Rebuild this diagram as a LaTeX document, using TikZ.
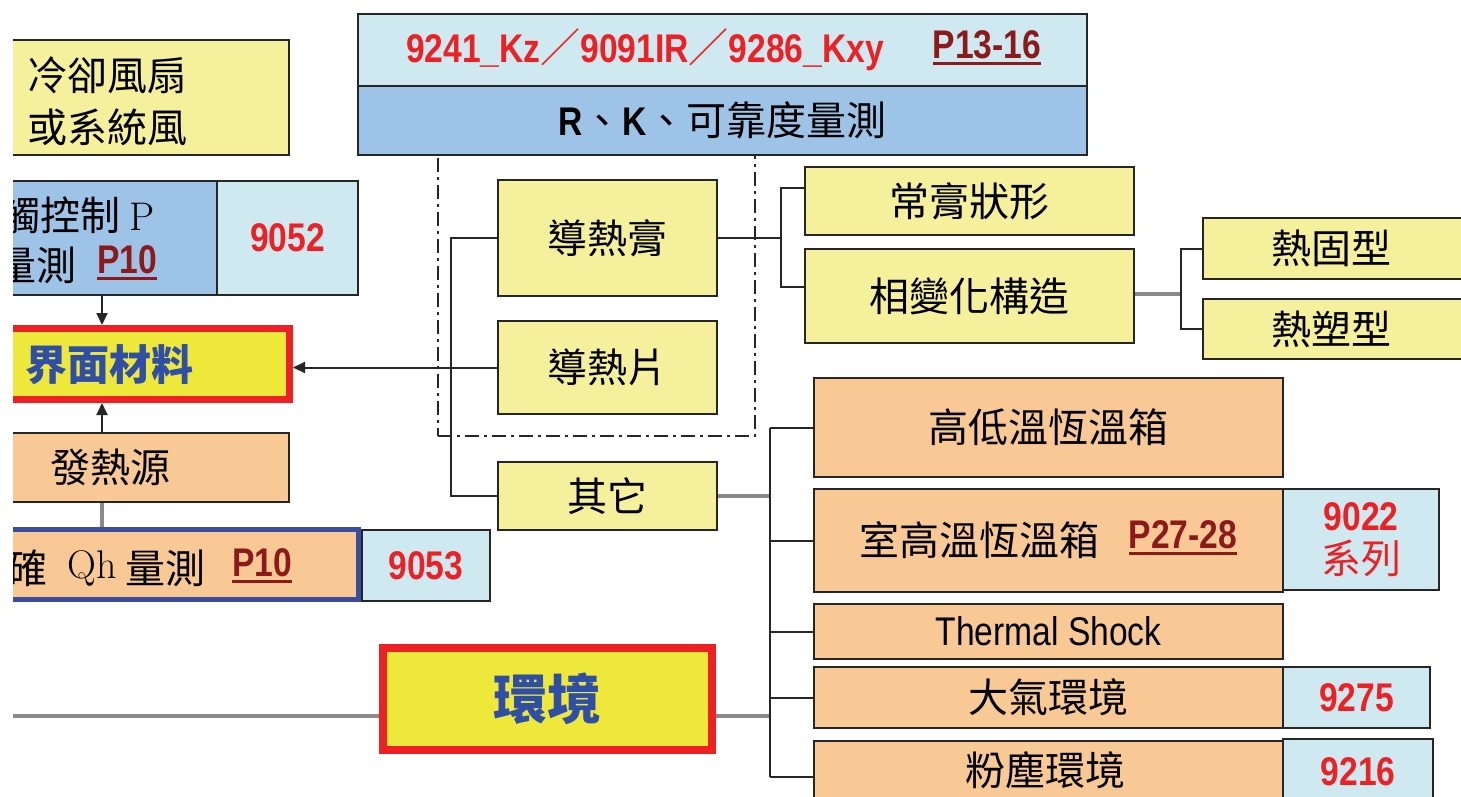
\documentclass[tikz,border=0pt]{standalone}
\usepackage{fontspec}
\usetikzlibrary{arrows.meta,calc}
\newfontfamily\cjk{Noto Sans CJK TC}
\newfontfamily\nar[FakeStretch=0.84]{Liberation Sans}
\definecolor{yel}{HTML}{F4F09C}
\definecolor{blu}{HTML}{9DC3E6}
\definecolor{cyn}{HTML}{CFE9F0}
\definecolor{pch}{HTML}{F8C994}
\definecolor{byel}{HTML}{EDE83A}
\definecolor{rd}{HTML}{EE2024}
\definecolor{drd}{HTML}{8C1A1A}
\definecolor{tblue}{HTML}{2F4EA6}
\definecolor{qblue}{HTML}{3B4DA0}
\definecolor{gry}{HTML}{8A8A8A}
\newcommand\ulx[1]{\setbox0\hbox{#1}\rlap{\color{drd}\rule[-6pt]{\wd0}{2.5pt}}\box0}
\newcommand\mybox[7][]{\node[box,#1,minimum width={(#5pt)-(#3pt)},minimum height={(#6pt)-(#4pt)}] (#2) at ({(#3+#5)/2},{(#4+#6)/2}) {#7};}
\tikzset{
  box/.style={draw=black!85,line width=2.2pt,inner sep=0pt,align=center,font=\cjk\fontsize{40}{48}\selectfont},
  cjkt/.style={inner sep=0pt,font=\cjk\fontsize{40}{48}\selectfont},
  num/.style={text=rd,font=\nar\bfseries\fontsize{40}{43}\selectfont},
  pnum/.style={inner sep=0pt,text=drd,font=\nar\bfseries\fontsize{40}{44}\selectfont},
  ln/.style={draw=black!85,line width=2pt},
  gln/.style={draw=gry,line width=4pt},
  arr/.style={ln,-{Triangle[length=12pt,width=11pt]}},
}
\begin{document}
\begin{tikzpicture}[x=1pt,y=-1pt]
\useasboundingbox (0,0) rectangle (1461,796);
\fill[white] (0,0) rectangle (1461,796);
\begin{scope}
\clip (13,0) rectangle (1461,796);
% left column
\mybox[fill=yel]{lq}{-20}{40}{289}{155}{}
\node[cjkt,anchor=west,align=left,font=\cjk\fontsize{40}{52}\selectfont] (lqt) at (27,101) {冷卻風扇\\或系統風};
\mybox[fill=blu]{tk}{-20}{181}{217}{295}{}
\mybox[fill=cyn,num]{n9052}{217}{181}{358}{295}{9052}
\node[cjkt,anchor=west] (tk1) at (0,215) {觸控制 {\rmfamily P}};
\node[cjkt,anchor=west] (tk2) at (-4,265) {量測};
\node[pnum] (tk3) at (127,263) {\ulx{P10}};
\mybox[fill=byel,draw=rd,line width=7pt]{jm}{-20}{328.5}{289.5}{399.5}{}
\node[inner sep=0pt,text=tblue,font=\cjk\bfseries\fontsize{42}{48}\selectfont] (jmt) at (109,365) {界面材料};
\mybox[fill=pch]{fr}{-20}{433}{289}{502}{}
\node[cjkt] (frt) at (110,467) {發熱源};
\mybox[fill=pch,draw=qblue,line width=5pt]{qh}{-20}{529.5}{358.5}{599.5}{}
\node[cjkt] (qh1) at (28,568) {確};
\node[cjkt,font=\rmfamily\fontsize{40}{48}\selectfont] (qh2) at (92,568) {Qh};
\node[cjkt] (qh3) at (165,568) {量測};
\node[pnum] (qh4) at (262,566) {\ulx{P10}};
\mybox[fill=cyn,num]{n9053}{362}{530}{490}{601}{9053}
% top
\mybox[fill=cyn]{tt}{358}{14}{1087}{86}{}
\mybox[fill=blu]{tb}{358}{86}{1087}{155}{{\nar\bfseries R}、{\nar\bfseries K}、可靠度量測}
\node[num,inner sep=0pt] (ttt) at (645,50) {9241\_Kz{\cjk\mdseries ／}9091IR{\cjk\mdseries ／}9286\_Kxy};
\node[pnum] (ttp) at (987,48) {\ulx{P13-16}};
% group frame
\mybox[line width=2pt,dash pattern=on 14pt off 5pt on 3pt off 5pt]{grp}{438}{155}{755}{436}{}
\mybox[fill=yel]{gg}{498}{180}{717}{296}{導熱膏}
\mybox[fill=yel]{gp}{498}{321}{717}{414}{導熱片}
\mybox[fill=yel]{qt}{498}{462}{717}{530}{其它}
\mybox[fill=yel]{cg}{805}{167}{1134}{235}{常膏狀形}
\mybox[fill=yel]{xb}{805}{249}{1134}{343}{相變化構造}
\mybox[fill=yel]{rg}{1203}{218}{1480}{279}{}
\node[cjkt] (rgt) at (1331,248) {熱固型};
\mybox[fill=yel]{rs}{1203}{299}{1480}{359}{}
\node[cjkt] (rst) at (1331,329) {熱塑型};
% right column
\mybox[fill=pch]{hl}{814}{378}{1283}{477}{高低溫恆溫箱}
\mybox[fill=pch]{sh}{814}{489}{1283}{592}{}
\node[cjkt] (sht) at (979,540) {室高溫恆溫箱};
\node[pnum] (shp) at (1183,538) {\ulx{P27-28}};
\mybox[fill=cyn,num]{n9022}{1283}{489}{1439}{590}{9022\\{\cjk\mdseries 系列}}
\mybox[fill=pch]{ts}{814}{604}{1283}{659}{{\nar Thermal Shock}}
\mybox[fill=pch]{dq}{814}{667}{1283}{728}{大氣環境}
\mybox[fill=cyn,num]{n9275}{1283}{667}{1430}{728}{9275}
\mybox[fill=pch]{fc}{814}{741}{1283}{812}{}
\node[cjkt] (fct) at (1045,770) {粉塵環境};
\mybox[fill=cyn]{n9216}{1283}{739}{1433}{812}{}
\node[num,inner sep=0pt] (n9216t) at (1358,772) {9216};
% environment
\mybox[fill=byel,draw=rd,line width=8pt,font=\cjk\bfseries\fontsize{54}{60}\selectfont,text=tblue]{hj}{383}{648}{712}{750}{環境}
% helper coordinates
\coordinate (cx) at (102,0);
\coordinate (b1) at (781,238);
\coordinate (b2) at (1181,294);
\coordinate (b3) at (770,0);
\coordinate (L) at (0,0);
% gray connectors
\draw[gln] (cx |- qh.north) -- (cx |- fr.south);
\draw[gln] (qt.east) -- (qt.east -| b3);
\draw[gln] (xb.east |- b2) -- (b2);
\draw[gln] ([yshift=-17pt]hj.west) -- ([yshift=-17pt]hj.west -| L);
\draw[gln] ([yshift=-17pt]hj.east) -- ([yshift=-17pt]hj.east -| b3);
% black connectors
\draw[arr] (cx |- tk.south) -- (cx |- jm.north);
\draw[arr] (cx |- fr.north) -- (cx |- jm.south);
\draw[arr] (gp.west) -- (gp.west -| jm.east);
\draw[ln] (gg.west) -- ++(-46,0) |- (qt.west);
\draw[ln] (gg.east) -- (b1);
\draw[ln] ([yshift=13pt]cg.west) -| (b1) |- ([yshift=9pt]xb.west);
\draw[ln] (rg.west) -| (b2) |- (rs.west);
\draw[ln] (b3 |- hl.west) -- (b3 |- fc.west);
\foreach \n in {hl,sh,ts,dq,fc} \draw[ln] (\n.west) -- (\n.west -| b3);
\end{scope}
\end{tikzpicture}
\end{document}
